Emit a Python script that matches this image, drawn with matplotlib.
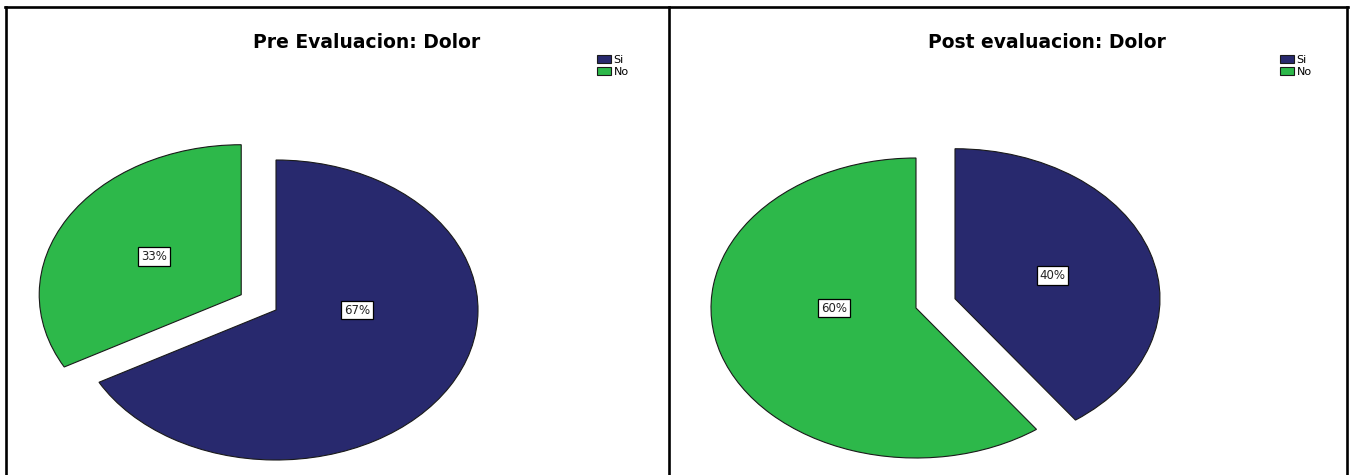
import numpy as np
import matplotlib.pyplot as plt
from matplotlib.lines import Line2D

plt.rcParams['font.family'] = ['DejaVu Sans']

# Datos de las dos evaluaciones (porcentajes)
categorias = ['Si', 'No']
pre_dolor = [67, 33]
post_dolor = [40, 60]
titulo_pre = 'Pre Evaluacion: Dolor'
titulo_post = 'Post evaluacion: Dolor'

colores = ['#28296e', '#2db84a']
W, H = 1351, 475

fig = plt.figure(figsize=(W / 100, H / 100), dpi=100)


def dibujar_pie(valores, explode, cx, cy, rx, ry):
    # ejes a toda la figura; los limites convierten el circulo en elipse
    ax = fig.add_axes([0, 0, 1, 1])
    ax.patch.set_alpha(0)
    wedges, _ = ax.pie(valores, colors=colores, explode=explode, startangle=90,
                       counterclock=False,
                       wedgeprops=dict(edgecolor='#1a1a1a', linewidth=0.8))
    ax.set_aspect('auto')
    cy_up = H - cy
    ax.set_xlim(-cx / rx, (W - cx) / rx)
    ax.set_ylim(-cy_up / ry, (H - cy_up) / ry)
    ax.axis('off')

    total = sum(valores)
    for w, v in zip(wedges, valores):
        t1, t2 = w.theta1, w.theta2
        mid = np.radians((t1 + t2) / 2)
        c = w.center
        if abs(t2 - t1) > 180:
            pos = (c[0] + 0.4 * np.sign(np.cos(mid)), c[1])
        else:
            pos = (c[0] + 0.5 * np.cos(mid), c[1] + 0.5 * np.sin(mid))
        ax.text(pos[0], pos[1], f'{round(v / total * 100)}%', ha='center', va='center',
                fontsize=8.5, color='#222222',
                bbox=dict(boxstyle='square,pad=0.25', fc='white', ec='black', lw=0.9))
    return wedges


w_pre = dibujar_pie(pre_dolor, [0, 0.2], 276, 310, 202, 150)
w_post = dibujar_pie(post_dolor, [0.2, 0], 916, 308, 205, 150)

# titulos
fig.text(367 / W, 1 - 42 / H, titulo_pre, ha='center', va='center', fontsize=13.5, fontweight='bold')
fig.text(1047 / W, 1 - 42 / H, titulo_post, ha='center', va='center', fontsize=13.5, fontweight='bold')

# leyendas
for wedges, x in [(w_pre, 597), (w_post, 1280)]:
    fig.legend(wedges, categorias, loc='upper left', bbox_to_anchor=(x / W, 1 - 55 / H),
               frameon=False, fontsize=8, handlelength=1.3, handleheight=0.75,
               handletextpad=0.2, labelspacing=0.2, borderpad=0, borderaxespad=0)

# bordes de los paneles
kw = dict(transform=fig.transFigure, color='black', lw=1.9, solid_capstyle='projecting')
fig.add_artist(Line2D([5 / W, 1348 / W], [1 - 7 / H, 1 - 7 / H], **kw))
for x in [6, 669, 1347]:
    fig.add_artist(Line2D([x / W, x / W], [0, 1 - 7 / H], **kw))

plt.savefig('out.png', dpi=100)
